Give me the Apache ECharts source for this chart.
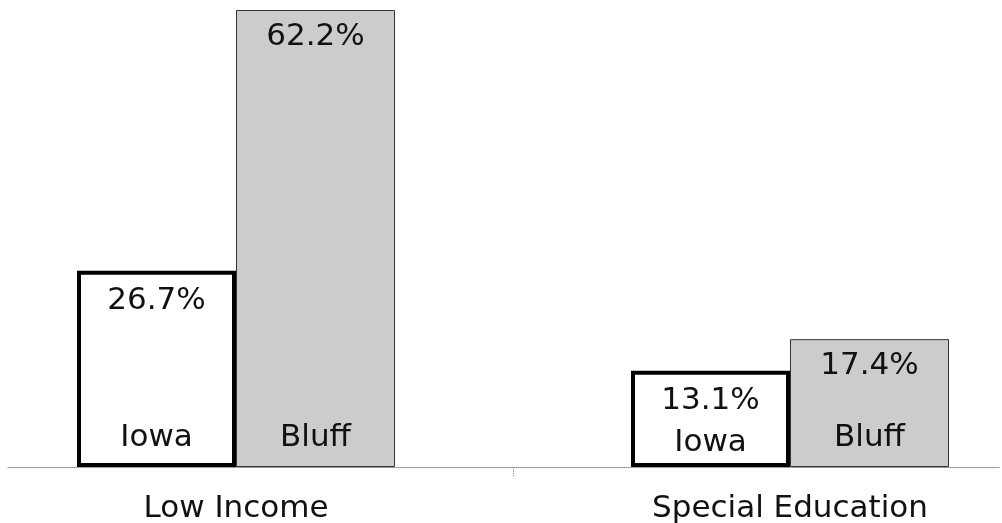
<!DOCTYPE html>
<html>
<head>
<meta charset="utf-8">
<script src="https://cdn.jsdelivr.net/npm/echarts@6/dist/echarts.min.js"></script>
<style>
  html, body { margin: 0; padding: 0; background: #fff; }
  #chart { width: 1002px; height: 523px; }
</style>
</head>
<body>
<div id="chart"></div>
<script>
// Share of students by group: state vs. district
const categories = ['Low Income', 'Special Education'];
const iowaValues = [26.7, 13.1];
const bluffValues = [62.2, 17.4];
const seriesNames = ['Iowa', 'Bluff'];

const FONT = 'DejaVu Sans';
const FS = 31;

const chart = echarts.init(document.getElementById('chart'), null, { renderer: 'canvas' });

// Transparent twin of a bar series that carries the group name at the bar's foot
function nameSeries(name, values, distances) {
  return {
    type: 'bar',
    name: name + ' label',
    xAxisIndex: 1,
    barWidth: 159,
    barGap: '0%',
    silent: true,
    itemStyle: { color: 'rgba(0,0,0,0)' },
    data: values.map((v, i) => ({
      value: v,
      label: { distance: distances[i] }
    })),
    label: {
      show: true,
      position: 'insideBottom',
      formatter: name,
      fontFamily: FONT,
      fontSize: FS,
      color: '#111'
    },
    z: 5
  };
}

chart.setOption({
  animation: false,
  grid: [
    { left: -41, right: -65, top: 10, bottom: 56, outerBoundsMode: 'none', containLabel: false },
    // thin strip holding the visible baseline
    { left: 8, right: 2, top: 10, bottom: 56, outerBoundsMode: 'none', containLabel: false }
  ],
  xAxis: [
    {
      type: 'category',
      gridIndex: 0,
      data: categories,
      axisLine: { show: false },
      axisTick: {
        show: true,
        length: 9,
        lineStyle: { color: '#888', width: 1, type: 'dotted' }
      },
      axisLabel: {
        fontFamily: FONT,
        fontSize: FS,
        color: '#111',
        margin: 26
      }
    },
    {
      type: 'category',
      gridIndex: 0,
      data: categories,
      show: false
    },
    {
      type: 'category',
      gridIndex: 1,
      data: [''],
      axisLine: { show: true, lineStyle: { color: '#888', width: 1, type: 'dotted' } },
      axisTick: { show: false },
      axisLabel: { show: false }
    }
  ],
  yAxis: [
    { type: 'value', gridIndex: 0, min: 0, max: 62.2, show: false },
    { type: 'value', gridIndex: 1, min: 0, max: 1, show: false }
  ],
  series: [
    {
      type: 'bar',
      name: seriesNames[0],
      xAxisIndex: 0,
      barWidth: 159,
      barGap: '0%',
      data: iowaValues,
      itemStyle: { color: '#ffffff', borderColor: '#000000', borderWidth: 4 },
      label: {
        show: true,
        position: 'insideTop',
        distance: 15,
        formatter: p => p.value.toFixed(1) + '%',
        fontFamily: FONT,
        fontSize: FS,
        color: '#111'
      },
      z: 3
    },
    {
      type: 'bar',
      name: seriesNames[1],
      xAxisIndex: 0,
      barWidth: 159,
      barGap: '0%',
      data: bluffValues,
      itemStyle: { color: '#cccccc', borderColor: '#333333', borderWidth: 1 },
      label: {
        show: true,
        position: 'insideTop',
        distance: 11,
        formatter: p => p.value.toFixed(1) + '%',
        fontFamily: FONT,
        fontSize: FS,
        color: '#111'
      },
      z: 2
    },
    nameSeries(seriesNames[0], iowaValues, [14, 9]),
    nameSeries(seriesNames[1], bluffValues, [14, 14])
  ]
});
</script>
</body>
</html>
